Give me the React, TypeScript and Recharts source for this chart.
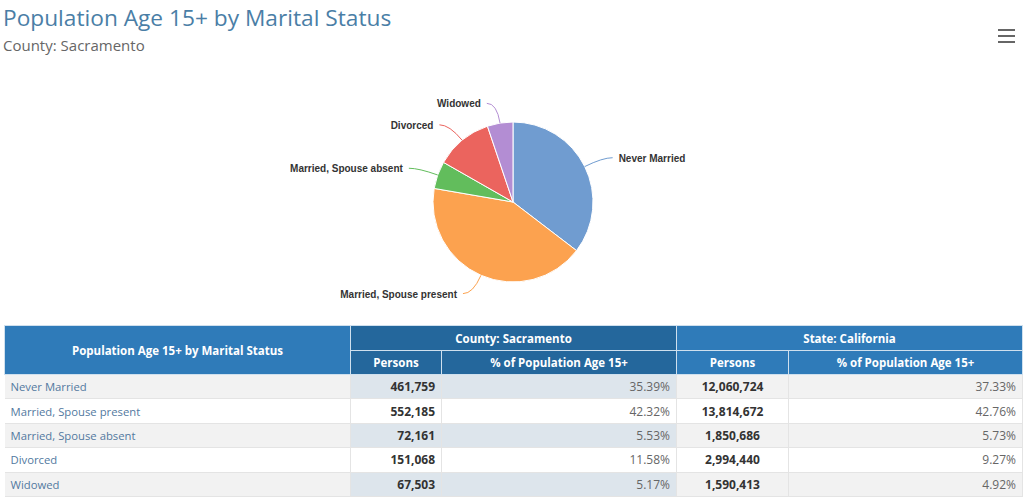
import React from "react";
import { PieChart, Pie, Cell } from "recharts";

// Marital status, population age 15+
const categories = [
  "Never Married",
  "Married, Spouse present",
  "Married, Spouse absent",
  "Divorced",
  "Widowed",
];
const countyPersons = [461759, 552185, 72161, 151068, 67503];
const countyPct = [35.39, 42.32, 5.53, 11.58, 5.17];
const statePersons = [12060724, 13814672, 1850686, 2994440, 1590413];
const statePct = [37.33, 42.76, 5.73, 9.27, 4.92];

const COLORS = ["#709cd0", "#fca24f", "#62bd5c", "#eb645e", "#b38dd3"];

const pieData = categories.map((name, i) => ({ name, value: countyPersons[i] }));

const RADIAN = Math.PI / 180;
const FONT = "'Open Sans', 'Liberation Sans', sans-serif";

function renderLabel(props: any) {
  const { cx, cy, midAngle, outerRadius, index, name } = props;
  const cos = Math.cos(-midAngle * RADIAN);
  const sin = Math.sin(-midAngle * RADIAN);
  const sx = cx + outerRadius * cos;
  const sy = cy + outerRadius * sin;
  const mx = cx + (outerRadius + 20) * cos;
  const my = cy + (outerRadius + 20) * sin;
  const right = cos >= 0;
  const ex = mx + (right ? 10 : -10);
  const tx = ex + (right ? 6 : -6);
  return (
    <g key={`lbl-${index}`}>
      <path
        d={`M${sx},${sy} Q${mx},${my} ${ex},${my}`}
        fill="none"
        stroke={COLORS[index]}
        strokeWidth={1}
      />
      <text
        x={tx}
        y={my}
        dy={4}
        textAnchor={right ? "start" : "end"}
        fontFamily="'Liberation Sans', Arial, sans-serif"
        fontSize={10}
        fontWeight="bold"
        fill="#333"
      >
        {name}
      </text>
    </g>
  );
}

const fmt = (n: number) => n.toLocaleString("en-US");

const th: React.CSSProperties = {
  color: "#fff",
  fontWeight: 700,
  fontSize: 11.5,
  textAlign: "center",
  border: "1px solid #cfe0ee",
  padding: 0,
};

export default function App() {
  return (
    <div
      style={{
        position: "absolute",
        left: 0,
        top: 0,
        width: 1024,
        height: 503,
        background: "#fff",
        fontFamily: FONT,
        overflow: "hidden",
      }}
    >
      <div style={{ position: "absolute", left: 3, top: 2, fontSize: 22.7, color: "#4a7ea6", whiteSpace: "nowrap" }}>
        Population Age 15+ by Marital Status
      </div>
      <div style={{ position: "absolute", left: 3, top: 35, fontSize: 15, color: "#666", whiteSpace: "nowrap" }}>
        County: Sacramento
      </div>
      {[0, 1, 2].map((i) => (
        <div
          key={i}
          style={{ position: "absolute", left: 998, top: 29 + i * 6, width: 17, height: 2, background: "#666" }}
        />
      ))}

      <div style={{ position: "absolute", left: 0, top: 0 }}>
        <PieChart width={1024} height={320} margin={{ top: 0, right: 0, bottom: 0, left: 0 }}>
          <Pie
            data={pieData}
            dataKey="value"
            nameKey="name"
            cx={513}
            cy={202}
            outerRadius={80}
            startAngle={90}
            endAngle={-270}
            stroke="#fff"
            strokeWidth={1}
            labelLine={false}
            label={renderLabel}
            isAnimationActive={false}
          >
            {pieData.map((d, i) => (
              <Cell key={d.name} fill={COLORS[i]} />
            ))}
          </Pie>
        </PieChart>
      </div>

      <table
        style={{
          position: "absolute",
          left: 4,
          top: 325,
          width: 1018,
          borderCollapse: "collapse",
          tableLayout: "fixed",
          fontFamily: FONT,
        }}
      >
        <colgroup>
          <col style={{ width: 346 }} />
          <col style={{ width: 91 }} />
          <col style={{ width: 235 }} />
          <col style={{ width: 112 }} />
          <col style={{ width: 234 }} />
        </colgroup>
        <thead>
          <tr style={{ height: 25 }}>
            <th rowSpan={2} style={{ ...th, background: "#2f7bb9" }}>
              Population Age 15+ by Marital Status
            </th>
            <th colSpan={2} style={{ ...th, background: "#24679c" }}>
              County: Sacramento
            </th>
            <th colSpan={2} style={{ ...th, background: "#2f7bb9" }}>
              State: California
            </th>
          </tr>
          <tr style={{ height: 24 }}>
            <th style={{ ...th, background: "#24679c" }}>Persons</th>
            <th style={{ ...th, background: "#24679c" }}>% of Population Age 15+</th>
            <th style={{ ...th, background: "#2f7bb9" }}>Persons</th>
            <th style={{ ...th, background: "#2f7bb9" }}>% of Population Age 15+</th>
          </tr>
        </thead>
        <tbody>
          {categories.map((c, i) => {
            const odd = i % 2 === 0;
            const gray = odd ? "#f2f2f2" : "#fff";
            const blue = odd ? "#dde5ec" : "#fff";
            const td: React.CSSProperties = {
              fontSize: 12,
              padding: "0 6px",
              borderBottom: "1px solid #e4e4e4",
              borderRight: "1px solid #e4e4e4",
              height: 23.4,
              whiteSpace: "nowrap",
            };
            return (
              <tr key={c}>
                <td style={{ ...td, fontSize: 11.3, background: gray, color: "#5279a0" }}>{c}</td>
                <td style={{ ...td, background: blue, textAlign: "right", fontWeight: 700, color: "#333" }}>
                  {fmt(countyPersons[i])}
                </td>
                <td style={{ ...td, background: blue, textAlign: "right", color: "#666" }}>
                  {countyPct[i].toFixed(2)}%
                </td>
                <td style={{ ...td, background: gray, textAlign: "center", fontWeight: 700, color: "#333" }}>
                  {fmt(statePersons[i])}
                </td>
                <td style={{ ...td, background: gray, textAlign: "right", color: "#666" }}>
                  {statePct[i].toFixed(2)}%
                </td>
              </tr>
            );
          })}
        </tbody>
      </table>
    </div>
  );
}
